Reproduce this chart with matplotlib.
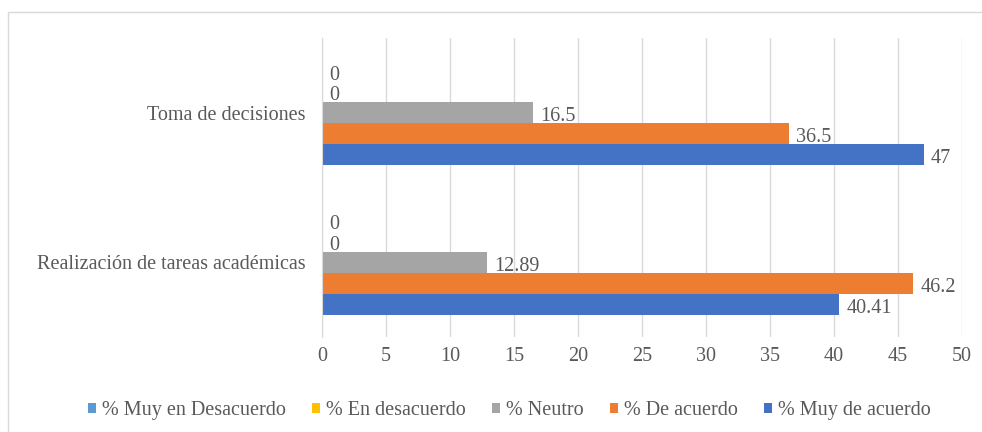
import matplotlib.pyplot as plt
import numpy as np
from matplotlib.patches import Rectangle

categories = ['Realización de tareas académicas', 'Toma de decisiones']
series_names = ['% Muy en Desacuerdo', '% En desacuerdo', '% Neutro',
                '% De acuerdo', '% Muy de acuerdo']
muy_en_desacuerdo = [0, 0]
en_desacuerdo = [0, 0]
neutro = [12.89, 16.5]
de_acuerdo = [46.2, 36.5]
muy_de_acuerdo = [40.41, 47]
label_text = [
    ['0', '0'],
    ['0', '0'],
    ['12.89', '16.5'],
    ['46.2', '36.5'],
    ['40.41', '47'],
]
colors = ['#5B9BD5', '#FFC000', '#A5A5A5', '#ED7D31', '#4472C4']
x_ticks = [0, 5, 10, 15, 20, 25, 30, 35, 40, 45, 50]

TEXT_COLOR = '#595959'
FS = 14.5
plt.rcParams['font.family'] = ['Liberation Serif', 'DejaVu Serif']

fig = plt.figure(figsize=(9.82, 4.32), dpi=100)
ax = fig.add_axes([0.328, 0.22, 0.6516, 0.692])

values = [muy_en_desacuerdo, en_desacuerdo, neutro, de_acuerdo, muy_de_acuerdo]
y = np.arange(len(categories))
bar_h = 0.14
n = len(values)
for i, (vals, name, color) in enumerate(zip(values, series_names, colors)):
    # first series on top within each group, last at bottom
    offs = (n - 1) / 2 * bar_h - i * bar_h
    bars = ax.barh(y + offs, vals, height=bar_h, color=color, label=name)
    for b, txt in zip(bars, label_text[i]):
        ax.annotate(txt, (b.get_width(), b.get_y() + b.get_height() / 2),
                    xytext=(5, -3), textcoords='offset points',
                    ha='left', va='center', fontsize=FS, color=TEXT_COLOR)

ax.set_xlim(0, 50)
ax.set_ylim(-0.5, 1.5)
ax.set_xticks(x_ticks)
ax.set_yticks(y)
ax.set_yticklabels(categories)
ax.tick_params(axis='both', length=0, labelsize=FS, colors=TEXT_COLOR)
ax.tick_params(axis='x', pad=7)
ax.tick_params(axis='y', pad=12)
ax.grid(axis='x', color='#D9D9D9', linewidth=1)
ax.set_axisbelow(True)
for side in ['top', 'right', 'bottom']:
    ax.spines[side].set_visible(False)
ax.spines['left'].set_color('#D9D9D9')

ax.legend(loc='upper center', bbox_to_anchor=(0.293, -0.155),
          ncol=5, frameon=False, fontsize=FS, labelcolor=TEXT_COLOR,
          handlelength=0.4, handleheight=0.4, handletextpad=0.3, columnspacing=1.3)

fig.patches.append(Rectangle((8 / 982, -0.05), 1.0, 0.05 + 1 - 12 / 432,
                             transform=fig.transFigure, fill=False,
                             edgecolor='#D9D9D9', linewidth=1))

fig.savefig('out.png', dpi=100)
